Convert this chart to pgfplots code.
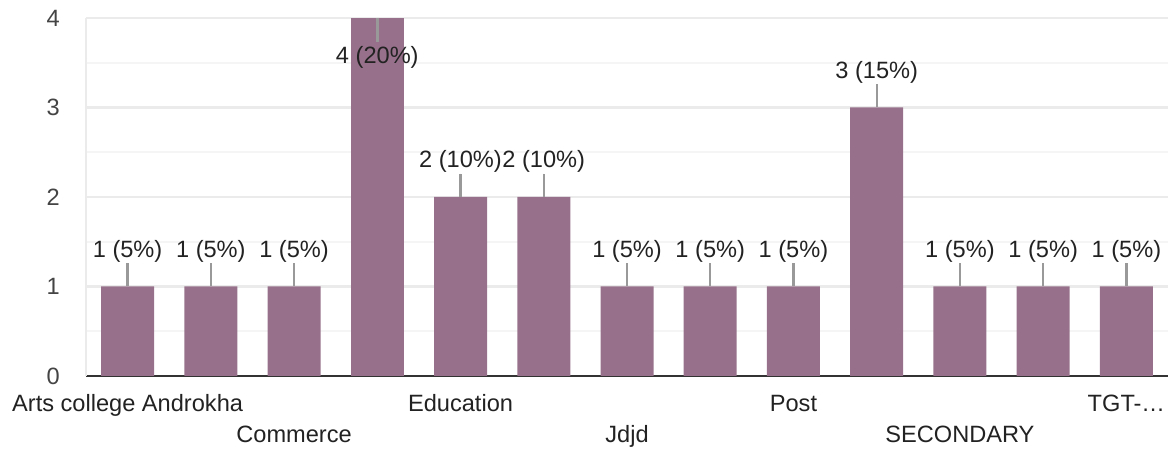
\documentclass[border=0pt]{standalone}
\usepackage{pgfplots}
\pgfplotsset{compat=1.18}
\usepackage{fontspec}
\setmainfont{Liberation Sans}
\definecolor{barc}{RGB}{151,113,139}
\definecolor{gridc}{RGB}{235,235,235}
\definecolor{minorc}{RGB}{245,245,245}
\definecolor{leader}{RGB}{153,153,153}
\definecolor{txt}{RGB}{34,34,34}
\definecolor{tickc}{RGB}{68,68,68}
\newcommand{\lblfont}{\fontsize{23.6}{28}\selectfont}

\begin{document}
\begin{tikzpicture}
\begin{axis}[
  name=ax,
  scale only axis,
  width=1082pt, height=358pt,
  xmin=-0.5, xmax=12.5,
  ymin=0, ymax=4,
  ybar, bar width=53pt, bar shift=0pt,
  clip=false,
  axis lines*=left,
  x axis line style={draw=black!80, line width=2.5pt, -},
  y axis line style={draw=gridc, line width=2pt, -},
  ytick={0,1,2,3,4},
  minor y tick num=1,
  ymajorgrids, yminorgrids,
  major grid style={draw=gridc, line width=2.5pt},
  minor grid style={draw=minorc, line width=2pt},
  major tick length=0pt, minor tick length=0pt,
  /pgf/number format/assume math mode=true,
  yticklabel style={font=\lblfont, text=tickc, inner sep=0pt, anchor=east, xshift=-26pt},
  xtick={0,4,8,12},
  xticklabels={Arts college Androkha, Education, Post, TGT-…},
  xticklabel style={font=\lblfont, text=txt, inner sep=0pt, anchor=base, yshift=-36pt},
  extra x ticks={2,6,10},
  extra x tick labels={Commerce, Jdjd, SECONDARY},
  extra x tick style={xmajorgrids=false, xticklabel style={yshift=-31pt}},
  nodes near coords,
]
\addplot[fill=barc, draw=none,
  point meta=explicit symbolic,
  every node near coord/.append style={font=\lblfont, text=txt, inner sep=0pt, anchor=base, yshift=29pt},
  error bars/.cd, y dir=plus, y explicit,
  error bar style={draw=leader, line width=2.4pt}, error mark=none]
coordinates {
  (0,1) +- (0,0.26) [1 (5\%)]
  (1,1) +- (0,0.26) [1 (5\%)]
  (2,1) +- (0,0.26) [1 (5\%)]
  (4,2) +- (0,0.26) [2 (10\%)]
  (5,2) +- (0,0.26) [2 (10\%)]
  (6,1) +- (0,0.26) [1 (5\%)]
  (7,1) +- (0,0.26) [1 (5\%)]
  (8,1) +- (0,0.26) [1 (5\%)]
  (9,3) +- (0,0.26) [3 (15\%)]
  (10,1) +- (0,0.26) [1 (5\%)]
  (11,1) +- (0,0.26) [1 (5\%)]
  (12,1) +- (0,0.26) [1 (5\%)]
};
\addplot[fill=barc, draw=none,
  point meta=explicit symbolic,
  every node near coord/.append style={font=\lblfont, text=txt, inner sep=0pt, anchor=base, yshift=-46pt},
  error bars/.cd, y dir=minus, y explicit,
  error bar style={draw=leader, line width=2.4pt}, error mark=none]
coordinates {
  (3,4) +- (0,0.27) [4 (20\%)]
};
\end{axis}
\pgfresetboundingbox
\path[use as bounding box] ([shift={(-86pt,-74pt)}]ax.south west) rectangle ([shift={(0pt,18pt)}]ax.north east);
\end{tikzpicture}
\end{document}
